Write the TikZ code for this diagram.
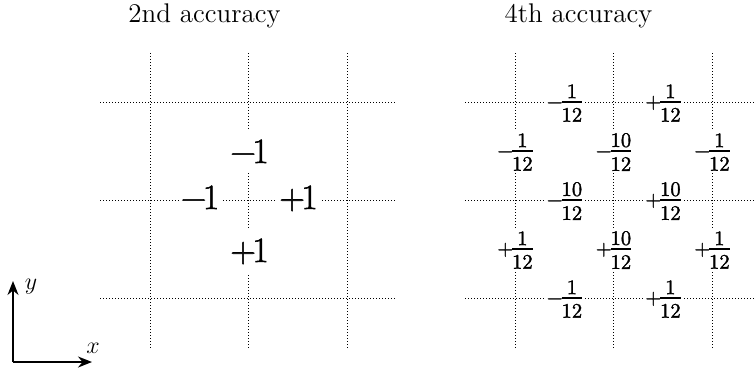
\documentclass[tikz,border=0pt]{standalone}
\usepackage{fontspec}
\newfontfamily\heavy[FakeBold=1.5]{Latin Modern Roman}
\newcommand\fr[3]{\ensuremath{\hbox{\heavy#1}\kern-0.06em\vcenter{\offinterlineskip\halign{\hfil##\hfil\cr\heavy#2\cr\noalign{\kern1.5pt\hrule height0.9pt\kern2.5pt}\heavy#3\cr}}}}
\usetikzlibrary{arrows.meta}
\begin{document}
\begin{tikzpicture}[x=0.5pt,y=-0.5pt,
  gridline/.style={line width=0.5pt, dash pattern=on 0.5pt off 1.0pt},
  axisline/.style={line width=0.9pt},
  title/.style={anchor=base, inner sep=0pt, font=\fontsize{13.5}{16}\selectfont},
  biglab/.style={anchor=base, fill=white, inner xsep=1pt, inner ysep=5pt, font=\fontsize{17.8}{20}\selectfont\heavy},
  fraclab/.style={anchor=base, fill=white, inner xsep=1.2pt, inner ysep=1pt, font=\fontsize{10.3}{12}\selectfont},
  axlab/.style={inner sep=0pt, font=\fontsize{12}{14}\selectfont}]
\useasboundingbox (0,0) rectangle (756,372);

% titles
\node[title] (t2) at (204.5,22) {2nd accuracy};
\node[title] (t4) at (578.5,22) {4th accuracy};

% left grid
\foreach \x in {150,248.5,347} \draw[gridline] (\x,53) -- (\x,348);
\foreach \y in {102,200,298} \draw[gridline] (100,\y) -- (397,\y);

% right grid
\foreach \x in {515,613.5,712} \draw[gridline] (\x,53) -- (\x,348);
\foreach \y in {102,200,298} \draw[gridline] (465,\y) -- (756,\y);

% left labels
\node[biglab] (l1) at (249.5,163) {−\kern-0.1em1};
\node[biglab] (l2) at (200,209) {−\kern-0.1em1};
\node[biglab] (l3) at (298.5,209) {+\kern-0.1em1};
\node[biglab] (l4) at (249.5,262) {+\kern-0.1em1};

% right labels
\node[fraclab] (r1) at (564.5,108) {\fr{−}{1}{12}};
\node[fraclab] (r2) at (663,108) {\fr{+}{1}{12}};
\node[fraclab] (r3) at (515,157) {\fr{−}{1}{12}};
\node[fraclab] (r4) at (613.5,157) {\fr{−}{10}{12}};
\node[fraclab] (r5) at (712,157) {\fr{−}{1}{12}};
\node[fraclab] (r6) at (564.5,206) {\fr{−}{10}{12}};
\node[fraclab] (r7) at (663,206) {\fr{+}{10}{12}};
\node[fraclab] (r8) at (515,255) {\fr{+}{1}{12}};
\node[fraclab] (r9) at (613.5,255) {\fr{+}{10}{12}};
\node[fraclab] (r10) at (712,255) {\fr{+}{1}{12}};
\node[fraclab] (r11) at (564.5,304) {\fr{−}{1}{12}};
\node[fraclab] (r12) at (663,304) {\fr{+}{1}{12}};

% axes
\coordinate (o) at (13,362);
\coordinate (xe) at (92,362);
\coordinate (ye) at (13,281);
\draw[axisline,-{Stealth[length=7pt,width=5.5pt]}] (o) -- (xe);
\draw[axisline,-{Stealth[length=7pt,width=5.5pt]}] (o) -- (ye);
\node[axlab] (xl) at (93,348) {$x$};
\node[axlab] (yl) at (31,287) {$y$};
\end{tikzpicture}
\end{document}
